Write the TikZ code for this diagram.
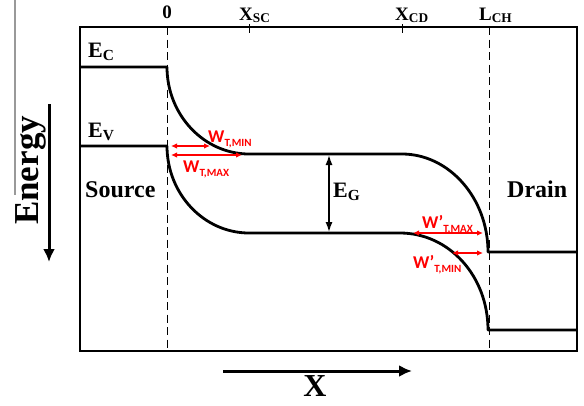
\documentclass[tikz,border=0pt]{standalone}
\usepackage{fontspec}
\setmainfont{Liberation Serif}
\newfontfamily\wfont{Carlito}
\usepackage{tikz}
\usetikzlibrary{arrows.meta}
\definecolor{wred}{HTML}{FF0000}
\newcommand{\bandsub}[2]{#1\textsubscript{#2}}
\newcommand{\wsub}[2]{#1\raisebox{-4pt}{\fontsize{11}{12}\selectfont #2}}
\tikzset{
  frame/.style={line width=2.8pt},
  band/.style={line width=2.8pt,line join=round},
  guide/.style={dash pattern=on 8pt off 4.5pt,line width=0.9pt},
  tickmark/.style={line width=0.9pt},
  lbl/.style={inner sep=0pt,font=\bfseries\fontsize{19}{20}\selectfont},
  big/.style={inner sep=0pt,font=\bfseries\fontsize{24}{26}\selectfont},
  wdim/.style={wred,line width=1.2pt,{Latex[length=6pt,width=5.5pt]}-{Latex[length=6pt,width=5.5pt]}},
  wlbl/.style={inner sep=0pt,text=wred,font=\wfont\bfseries\fontsize{18}{20}\selectfont},
  gap/.style={line width=1.4pt,{Latex[length=10pt,width=7pt]}-{Latex[length=10pt,width=7pt]}},
  axis/.style={line width=3pt,-{Latex[length=13pt,width=12pt]}},
}

\begin{document}
\begin{tikzpicture}[x=1pt,y=-1pt]
\useasboundingbox (0,0) rectangle (584,405);
\draw[gray!80,line width=1.2pt] (15,0) -- (15,195);
\draw[frame] (80,27) rectangle (577,351);

\coordinate (ec) at (167,67);
\coordinate (ev) at (167,146);
\coordinate (sc1) at (249,154);
\coordinate (sc2) at (249,233);
\coordinate (cd1) at (402,154);
\coordinate (cd2) at (400,233);
\coordinate (dc) at (488,252);
\coordinate (dv) at (488,330);

\draw[guide] (167,27) -- (167,351);
\draw[guide] (489,27) -- (489,351);
\draw[tickmark] (249,24) -- (249,33);
\draw[tickmark] (402,24) -- (402,33);

\draw[band] (80,67) -- (ec) .. controls (167,115) and (204,154) .. (sc1)
  -- (cd1) .. controls (449,154) and (488,198) .. (dc) -- (577,252);
\draw[band] (80,146) -- (ev) .. controls (167,194) and (204,233) .. (sc2)
  -- (cd2) .. controls (449,233) and (488,276) .. (dv) -- (577,330);

\node[lbl,anchor=base] (zero) at (167,18) {0};
\node[lbl,anchor=base west] (xsc) at (239,20) {\bandsub{X}{SC}};
\node[lbl,anchor=base west] (xcd) at (395,20) {\bandsub{X}{CD}};
\node[lbl,anchor=base west] (lch) at (479,20) {\bandsub{L}{CH}};
\node[lbl,font=\bfseries\fontsize{22}{24}\selectfont,anchor=base west] (ecl) at (88,57) {\bandsub{E}{C}};
\node[lbl,font=\bfseries\fontsize{22}{24}\selectfont,anchor=base west] (evl) at (88,137) {\bandsub{E}{V}};
\node[big,anchor=base west] (src) at (85,197) {Source};
\node[big,anchor=base west] (drn) at (507,197) {Drain};

\coordinate (gtop) at (329,155);
\coordinate (gbot) at (329,232);
\draw[gap] (gtop) -- (gbot);
\node[lbl,font=\bfseries\fontsize{22}{24}\selectfont,anchor=base west] (egl) at (333,197) {\bandsub{E}{G}};

\coordinate (wmin a) at (171,146);
\coordinate (wmin b) at (210,146);
\coordinate (wmax a) at (171,155);
\coordinate (wmax b) at (242,155);
\coordinate (dmax a) at (413,233);
\coordinate (dmax b) at (483,233);
\coordinate (dmin a) at (452,253);
\coordinate (dmin b) at (483,253);
\draw[wdim] (wmin a) -- (wmin b);
\draw[wdim] (wmax a) -- (wmax b);
\draw[wdim] (dmax a) -- (dmax b);
\draw[wdim] (dmin a) -- (dmin b);
\node[wlbl,anchor=base west] (wminl) at (208,142) {\wsub{W}{T,MIN}};
\node[wlbl,anchor=base west] (wmaxl) at (183,172) {\wsub{W}{T,MAX}};
\node[wlbl,anchor=base west] (dmaxl) at (422,228) {\wsub{W’}{T,MAX}};
\node[wlbl,anchor=base west] (dminl) at (413,268) {\wsub{W’}{T,MIN}};

\coordinate (ea) at (49,104);
\coordinate (eb) at (49,262);
\draw[axis] (ea) -- (eb);
\node[inner sep=0pt,font=\bfseries\fontsize{35}{36}\selectfont,rotate=90,anchor=base west] (energy) at (38,225) {Energy};
\coordinate (xa) at (223,371);
\coordinate (xb) at (412,371);
\draw[axis] (xa) -- (xb);
\node[inner sep=0pt,font=\bfseries\fontsize{32}{34}\selectfont,anchor=north] (xl) at (315,375) {X};
\end{tikzpicture}
\end{document}
